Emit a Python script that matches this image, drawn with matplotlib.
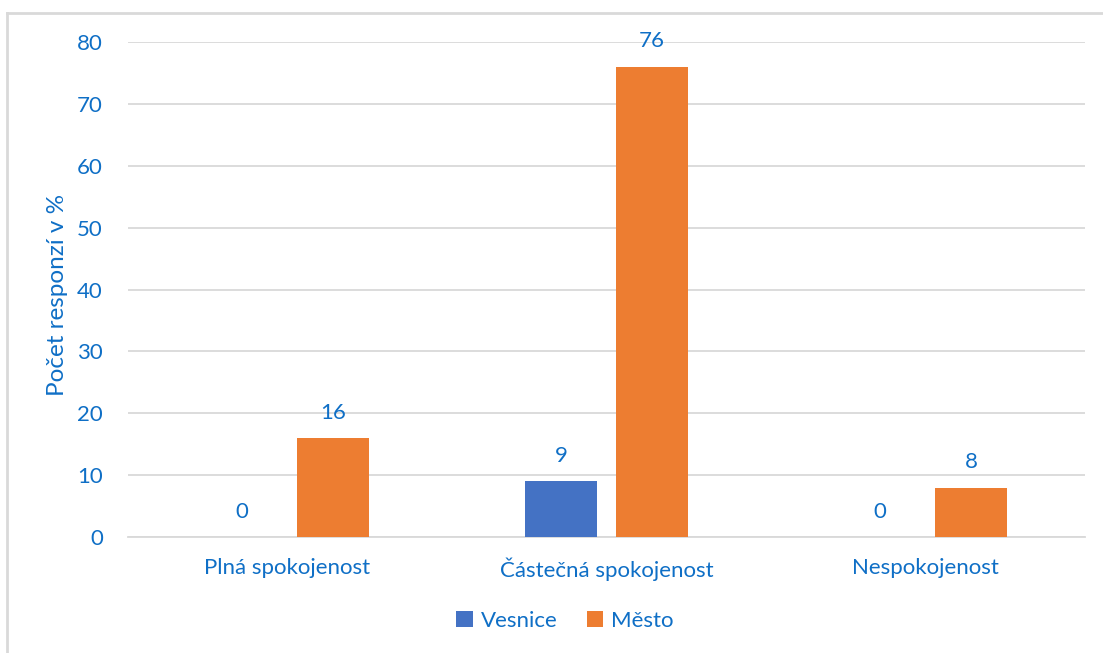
import numpy as np
import matplotlib.pyplot as plt
from matplotlib.lines import Line2D

plt.rcParams['font.family'] = ['Lato', 'DejaVu Sans']

categories = ['Plná spokojenost', 'Částečná spokojenost', 'Nespokojenost']
vesnice = [0, 9, 0]
mesto = [16, 76, 8]
yticks = [0, 10, 20, 30, 40, 50, 60, 70, 80]

txt = '#0F6FC6'
blue = '#4472C4'
orange = '#ED7D31'
fs = 16

fig = plt.figure(figsize=(11.03, 6.53), dpi=100)
ax = fig.add_axes([128 / 1103, 1 - 537 / 653, 957 / 1103, 495 / 653])

x = np.arange(len(categories))
w = 0.226
off = 0.1426
b1 = ax.bar(x - off, vesnice, w, color=blue, label='Vesnice', zorder=3)
b2 = ax.bar(x + off, mesto, w, color=orange, label='Město', zorder=3)

for bars in (b1, b2):
    for r in bars:
        h = r.get_height()
        ax.text(r.get_x() + r.get_width() / 2, h + 2.5, '%d' % h,
                ha='center', va='bottom', color=txt, fontsize=fs)

ax.set_xlim(-0.5, 2.5)
ax.set_ylim(0, 80)
ax.set_yticks(yticks)
ax.yaxis.grid(True, color='#D9D9D9', linewidth=1.3, zorder=0)
ax.set_axisbelow(True)
for s in ['top', 'right', 'left']:
    ax.spines[s].set_visible(False)
ax.spines['bottom'].set_color('#D9D9D9')
ax.spines['bottom'].set_linewidth(1.3)
ax.tick_params(axis='both', length=0, labelsize=fs, labelcolor=txt)
ax.tick_params(axis='y', pad=18)
ax.tick_params(axis='x', pad=15)
ax.set_xticks(x)
ax.set_xticklabels(categories)
ax.set_ylabel('Počet responzí v %', color=txt, fontsize=17.5)
ax.yaxis.set_label_coords(-0.063, 0.49)

ax.legend(loc='center', bbox_to_anchor=(565 / 1103, 1 - 621 / 653),
          bbox_transform=fig.transFigure, ncol=2, frameon=False,
          fontsize=fs, labelcolor=txt, handlelength=0.75, handleheight=0.75,
          columnspacing=1.3, handletextpad=0.35)

# chart border: only top and left edges show in the crop
fig.add_artist(Line2D([7 / 1103, 7 / 1103], [0, 1 - 13 / 653],
                      transform=fig.transFigure, color='#D9D9D9', linewidth=2))
fig.add_artist(Line2D([7 / 1103, 1], [1 - 13 / 653, 1 - 13 / 653],
                      transform=fig.transFigure, color='#D9D9D9', linewidth=2))

fig.savefig('out.png', dpi=100)
